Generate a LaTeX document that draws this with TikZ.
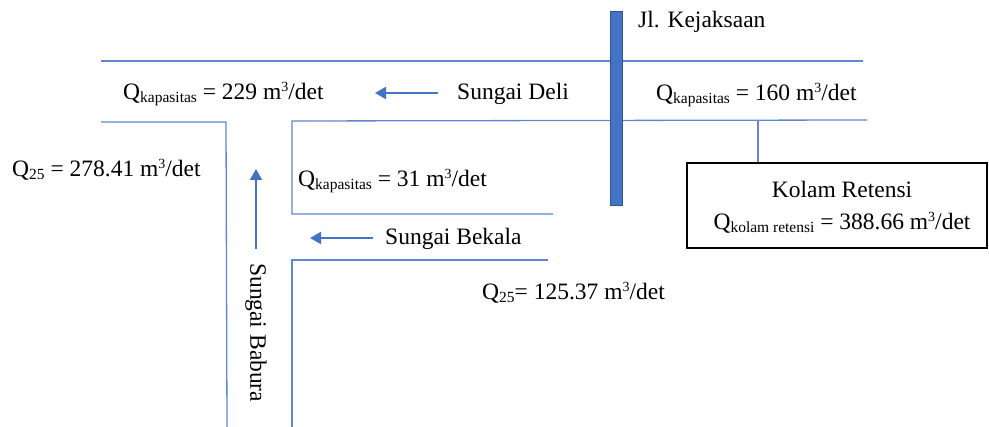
\documentclass[tikz,border=0pt]{standalone}
\usepackage{fontspec}
\setmainfont{Liberation Serif}
\usetikzlibrary{arrows.meta}
\definecolor{river}{HTML}{4472C4}
\definecolor{roadedge}{HTML}{2F5597}
% small lowered index and the unit with its raised cube
\newcommand\lowtext[1]{\raisebox{-2.5pt}{\fontsize{15.5}{16}\selectfont #1}}
\newcommand\cubic{m\raisebox{8.5pt}{\fontsize{14}{14}\selectfont 3}/det}

\begin{document}
\begin{tikzpicture}[x=1pt,y=-1pt,
  bank/.style={draw=river!85, line width=1.3pt},
  flow/.style={draw=river, line width=2.2pt, -{Triangle[length=11pt,width=12pt]}},
  lbl/.style={inner sep=0pt, anchor=base west, font=\fontsize{23.5}{28}\selectfont},
]
\useasboundingbox (0,0) rectangle (989,427);

% river banks
\draw[bank] (101,61) -- (863,61);
\draw[bank] (101,122) -- (226,122) -- (227,427);
\draw[bank] (867,120) -- (292,121) -- (292,214) -- (553,214);
\draw[bank] (548,260) -- (292,260) -- (292,427);

% road crossing the river
\node[fill=river, draw=roadedge, line width=1pt, minimum width=12pt,
      minimum height=194pt, inner sep=0pt] (road) at (616,109) {};
\node[lbl] (jalan) at (638,28) {Jl. Kejaksaan};

% retention pond
\node[draw, line width=1.8pt, minimum width=300pt, minimum height=85pt,
      inner sep=0pt] (kolam) at (837,205.5) {};
\node[lbl, anchor=base] (kolamname) at (842,198) {Kolam Retensi};
\node[lbl, anchor=base] (kolamq) at (842,230) {Q\lowtext{kolam retensi} = 388.66 \cubic};
\coordinate (tap) at (758,120);
\draw[bank] (tap) -- (tap |- kolam.north);

% flow directions
\coordinate (deliA) at (438,93);
\coordinate (deliB) at (375,93);
\draw[flow] (deliA) -- (deliB);
\coordinate (baburaA) at (256,249);
\coordinate (baburaB) at (256,169);
\draw[flow] (baburaA) -- (baburaB);
\coordinate (bekalaA) at (373,238);
\coordinate (bekalaB) at (310,238);
\draw[flow] (bekalaA) -- (bekalaB);

% labels
\node[lbl] (qdeli) at (123,100) {Q\lowtext{kapasitas} = 229 \cubic};
\node[lbl] (deli) at (457,100) {Sungai Deli};
\node[lbl] (qhilir) at (656,101) {Q\lowtext{kapasitas} = 160 \cubic};
\node[lbl] (qbabura) at (12,177) {Q\lowtext{25} = 278.41 \cubic};
\node[lbl] (qbekkap) at (298,187) {Q\lowtext{kapasitas} = 31 \cubic};
\node[lbl] (bekala) at (385,245) {Sungai Bekala};
\node[lbl] (qbekala) at (482,300) {Q\lowtext{25}= 125.37 \cubic};
\node[lbl, anchor=west, rotate=-90] (babura) at (256,263) {Sungai Babura};
\end{tikzpicture}
\end{document}
